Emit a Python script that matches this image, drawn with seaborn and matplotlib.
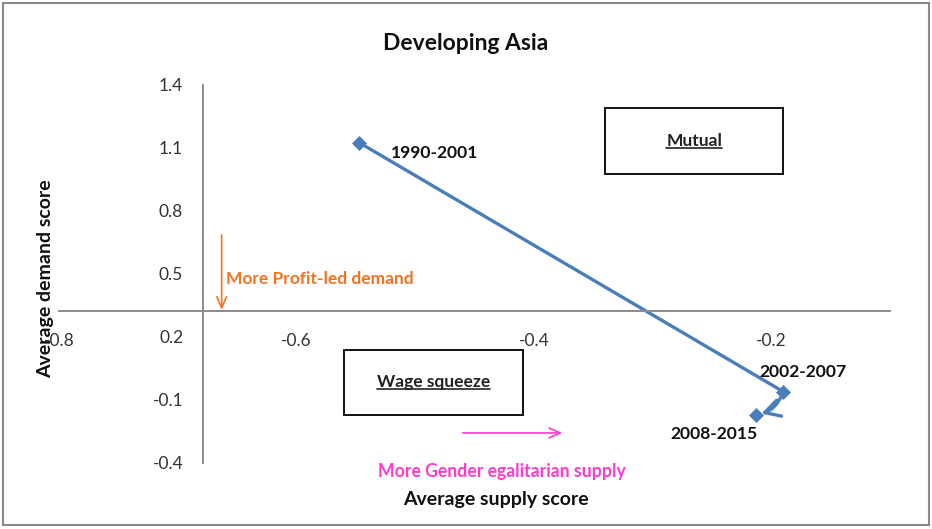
import matplotlib
matplotlib.use("Agg")
import matplotlib.pyplot as plt
import seaborn as sns
from matplotlib.patches import Rectangle
from matplotlib.lines import Line2D

# data
periods = ['1990-2001', '2002-2007', '2008-2015']
supply = [-0.547, -0.190, -0.213]
demand = [1.125, -0.060, -0.171]

x_ticks = [-0.8, -0.6, -0.4, -0.2]
y_ticks = [-0.4, -0.1, 0.2, 0.5, 0.8, 1.1, 1.4]

BLUE = '#4A7EBB'
ORANGE = '#F47321'
PINK = '#FF3BCB'
AXGRAY = '#8C8C8C'

sns.set_style('white')
plt.rcParams['font.family'] = ['Lato', 'DejaVu Sans']


def underline(fig, txt, renderer, lw=1.2):
    bb = txt.get_window_extent(renderer)
    inv = fig.transFigure.inverted()
    (x0, y0), (x1, y1) = inv.transform([(bb.x0, bb.y0), (bb.x1, bb.y0)])
    fig.add_artist(Line2D([x0, x1], [y0 + 0.002, y1 + 0.002], transform=fig.transFigure,
                          color='#222222', lw=lw))


def main():
    fig = plt.figure(figsize=(9.32, 5.29), dpi=100)
    ax = fig.add_axes([0.0633, 0.1248, 0.8916, 0.7146])

    # connecting line and markers
    sns.lineplot(x=supply[:2], y=demand[:2], sort=False, color=BLUE, lw=2.4, ax=ax)
    sns.scatterplot(x=supply, y=demand, marker='D', s=50, color=BLUE, edgecolor=BLUE, ax=ax, zorder=5)
    ax.annotate('', xy=(supply[2], demand[2]), xytext=(supply[1], demand[1]),
                arrowprops=dict(arrowstyle='->,head_length=1.1,head_width=0.6', color=BLUE, lw=2.4,
                                connectionstyle='arc3,rad=-0.3', shrinkA=3, shrinkB=4),
                zorder=6)

    # point labels
    offs = [(0.027, -0.05), (-0.020, 0.093), (-0.072, -0.091)]
    for p, x, y, (dx, dy) in zip(periods, supply, demand, offs):
        ax.text(x + dx, y + dy, p, fontsize=12.6, fontweight='bold', color='#111111',
                ha='left', va='center')

    ax.set_xlim(-0.8, -0.1)
    ax.set_ylim(-0.4, 1.4)
    ax.set_xticks(x_ticks)
    ax.set_yticks(y_ticks)
    ax.set_xticklabels([f'{v:.1f}' for v in x_ticks])
    ax.set_yticklabels([f'{v:.1f}' for v in y_ticks])

    ax.spines['top'].set_visible(False)
    ax.spines['right'].set_visible(False)
    ax.spines['left'].set_position(('data', -0.679))
    ax.spines['bottom'].set_position(('data', 0.325))
    for s in ('left', 'bottom'):
        ax.spines[s].set_color(AXGRAY)
        ax.spines[s].set_linewidth(1.4)
    ax.tick_params(axis='both', direction='out', length=4, width=1.2, color=AXGRAY,
                   labelsize=12.5, labelcolor='#333333')
    ax.tick_params(axis='x', pad=12)
    ax.tick_params(axis='y', pad=10)
    ax.patch.set_alpha(0)

    # quadrant boxes
    ax.add_patch(Rectangle((-0.340, 0.976), 0.150, 0.314, fill=False, ec='#111111', lw=1.4))
    ax.add_patch(Rectangle((-0.560, -0.171), 0.151, 0.309, fill=False, ec='#111111', lw=1.4))
    t_mutual = ax.text(-0.265, 1.133, 'Mutual', fontsize=12.5, fontweight='bold',
                       color='#222222', ha='center', va='center')
    t_wage = ax.text(-0.4845, -0.016, 'Wage squeeze', fontsize=12.5, fontweight='bold',
                     color='#222222', ha='center', va='center')

    # direction hints
    ax.annotate('', xy=(-0.663, 0.329), xytext=(-0.663, 0.686),
                arrowprops=dict(arrowstyle='->,head_length=0.8,head_width=0.35', color=ORANGE, lw=1.2,
                                shrinkA=0, shrinkB=0))
    ax.text(-0.659, 0.476, 'More Profit-led demand', fontsize=12.5, fontweight='bold',
            color=ORANGE, ha='left', va='center')
    ax.annotate('', xy=(-0.376, -0.257), xytext=(-0.460, -0.257),
                arrowprops=dict(arrowstyle='->,head_length=0.8,head_width=0.35', color=PINK, lw=1.2,
                                shrinkA=0, shrinkB=0))
    fig.text(502 / 932, 1 - 471 / 529, 'More Gender egalitarian supply', fontsize=12.7,
             fontweight='bold', color=PINK, ha='center', va='center')

    fig.text(466 / 932, 1 - 43 / 529, 'Developing Asia', fontsize=16.5, fontweight='bold',
             color='#111111', ha='center', va='center')
    fig.text(496 / 932, 1 - 500 / 529, 'Average supply score', fontsize=14, fontweight='bold',
             color='#111111', ha='center', va='center')
    fig.text(46 / 932, 1 - 279 / 529, 'Average demand score', fontsize=14, fontweight='bold',
             color='#111111', ha='center', va='center', rotation=90)

    # chart area border
    fig.add_artist(Rectangle((0.003, 0.008), 0.994, 0.986, transform=fig.transFigure,
                             fill=False, ec='#8A8A8A', lw=1.5))

    fig.canvas.draw()
    r = fig.canvas.get_renderer()
    underline(fig, t_mutual, r)
    underline(fig, t_wage, r)

    fig.savefig('out.png', dpi=100)


if __name__ == '__main__':
    main()
